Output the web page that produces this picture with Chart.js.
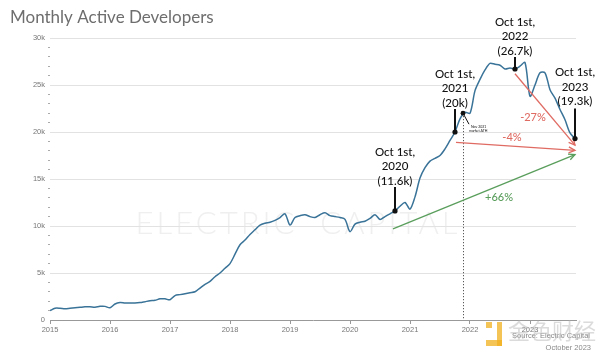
<!DOCTYPE html>
<html>
<head>
<meta charset="utf-8">
<script src="https://cdn.jsdelivr.net/npm/chart.js@4"></script>
<style>
  html, body { margin: 0; padding: 0; background: #fff; }
  canvas { display: block; }
</style>
</head>
<body>
<canvas id="c" width="600" height="353"></canvas>
<script>
// ---------- DATA ----------
// Monthly active developers (thousands), one value per month from Jan 2015 to Oct 2023
const monthlyDevsK = [
  1.0, 1.25, 1.25, 1.2, 1.25, 1.3, 1.35, 1.4, 1.4, 1.35, 1.45, 1.45,
  1.3, 1.7, 1.85, 1.8, 1.8, 1.8, 1.85, 1.95, 2.05, 2.1, 2.25, 2.25,
  2.15, 2.6, 2.7, 2.8, 2.9, 3.0, 3.4, 3.8, 4.1, 4.6, 5.0, 5.5,
  6.0, 7.0, 8.0, 8.5, 9.1, 9.6, 10.1, 10.3, 10.4, 10.6, 10.9, 11.3,
  10.1, 10.9, 11.1, 11.2, 11.0, 10.9, 11.2, 11.4, 11.1, 11.0, 10.9, 10.7,
  9.4, 10.2, 10.4, 10.5, 10.8, 11.2, 10.7, 11.0, 11.3, 11.6, 12.1, 12.5,
  11.8, 13.1, 15.1, 16.2, 16.9, 17.2, 17.5, 18.2, 19.1, 20.0, 21.4, 22.1,
  22.0, 24.4, 25.6, 26.6, 27.3, 27.2, 27.1, 26.7, 26.8, 26.7, 27.0, 27.4,
  23.8, 25.0, 26.3, 26.3, 24.5, 23.6, 22.4, 21.3, 19.9, 19.3
];
const yearLabels = ['2015','2016','2017','2018','2019','2020','2021','2022','2023'];
const yTickValuesK = [0, 5, 10, 15, 20, 25, 30];

// Callouts: month index (from Jan 2015) and value (k)
const calloutMonths = [69, 81, 93, 105];
const calloutValuesK = [11.6, 20.0, 26.7, 19.3];
const calloutTexts = [
  ['Oct 1st,', '2020', '(11.6k)'],
  ['Oct 1st,', '2021', '(20k)'],
  ['Oct 1st,', '2022', '(26.7k)'],
  ['Oct 1st,', '2023', '(19.3k)']
];
// Nov 2021 market all-time-high marker
const athMonth = 82.6;
const athValueK = 22.0;
const athText = ['Nov 2021', 'market ATH'];

// Change arrows: [startMonth, startK, endMonth, endK]
const arrowStarts = [[93, 26.2], [81.2, 18.9], [68.6, 9.7]];
const arrowEnds   = [[105, 18.6], [105, 18.05], [105, 17.6]];
const arrowLabels = ['-27%', '-4%', '+66%'];
const arrowLabelPos = [[96.6, 21.5], [92.4, 19.4], [89.8, 13.0]];

// ---------- STYLE ----------
const arrowColors = ['#df6b63', '#df6b63', '#5a9e5c'];
const calloutLift = [59, 58, 47, 66]; // px from dot to first text line
const calloutLeaderGap = [24, 23, 12, 30]; // leader line length px

const yearTicks = yearLabels.map((_, i) => i * 12);

function drawArrow(ctx, x1, y1, x2, y2, color) {
  ctx.save();
  ctx.strokeStyle = color;
  ctx.lineWidth = 1.3;
  ctx.beginPath();
  ctx.moveTo(x1, y1);
  ctx.lineTo(x2, y2);
  ctx.stroke();
  const a = Math.atan2(y2 - y1, x2 - x1);
  const L = 7, w = 0.45;
  ctx.beginPath();
  ctx.moveTo(x2 - L * Math.cos(a - w), y2 - L * Math.sin(a - w));
  ctx.lineTo(x2, y2);
  ctx.lineTo(x2 - L * Math.cos(a + w), y2 - L * Math.sin(a + w));
  ctx.stroke();
  ctx.restore();
}

const decorPlugin = {
  id: 'decor',
  beforeDatasetsDraw(chart) {
    const ctx = chart.ctx;
    const xs = chart.scales.x, ys = chart.scales.y;
    // faint watermark
    ctx.save();
    ctx.fillStyle = 'rgba(225,225,225,0.55)';
    ctx.font = '300 31px Lato';
    ctx.letterSpacing = '3px';
    ctx.textAlign = 'center';
    ctx.textBaseline = 'middle';
    ctx.fillText('ELECTRIC  CAPITAL', 298, 224);
    ctx.restore();
    // dotted vertical line at ATH
    ctx.save();
    ctx.strokeStyle = '#333';
    ctx.lineWidth = 1;
    ctx.setLineDash([1, 2]);
    const ax = Math.round(xs.getPixelForValue(athMonth)) + 0.5;
    ctx.beginPath();
    ctx.moveTo(ax, ys.getPixelForValue(athValueK * 1000));
    ctx.lineTo(ax, ys.getPixelForValue(0));
    ctx.stroke();
    ctx.restore();
  },
  afterDatasetsDraw(chart) {
    const ctx = chart.ctx;
    const xs = chart.scales.x, ys = chart.scales.y;

    // arrows
    arrowStarts.forEach((s, i) => {
      const e = arrowEnds[i];
      drawArrow(ctx,
        xs.getPixelForValue(s[0]), ys.getPixelForValue(s[1] * 1000),
        xs.getPixelForValue(e[0]), ys.getPixelForValue(e[1] * 1000),
        arrowColors[i]);
      ctx.save();
      ctx.fillStyle = arrowColors[i];
      ctx.font = '500 11px Lato';
      ctx.textAlign = 'center';
      ctx.textBaseline = 'middle';
      ctx.fillText(arrowLabels[i],
        xs.getPixelForValue(arrowLabelPos[i][0]),
        ys.getPixelForValue(arrowLabelPos[i][1] * 1000));
      ctx.restore();
    });

    // callouts
    calloutMonths.forEach((m, i) => {
      const px = xs.getPixelForValue(m);
      const py = ys.getPixelForValue(calloutValuesK[i] * 1000);
      ctx.save();
      ctx.strokeStyle = '#111';
      ctx.lineWidth = 2;
      ctx.beginPath();
      ctx.moveTo(px, py - calloutLeaderGap[i]);
      ctx.lineTo(px, py);
      ctx.stroke();
      ctx.fillStyle = '#111';
      ctx.beginPath();
      ctx.arc(px, py, 2.6, 0, Math.PI * 2);
      ctx.fill();
      ctx.font = '500 11.5px Lato';
      ctx.textAlign = 'center';
      ctx.textBaseline = 'middle';
      calloutTexts[i].forEach((t, k) => {
        ctx.fillText(t, px, py - calloutLift[i] + k * 14.6);
      });
      ctx.restore();
    });

    // ATH marker
    const hx = xs.getPixelForValue(athMonth);
    const hy = ys.getPixelForValue(athValueK * 1000);
    ctx.save();
    ctx.fillStyle = '#111';
    ctx.beginPath();
    ctx.arc(hx, hy, 2.4, 0, Math.PI * 2);
    ctx.fill();
    ctx.strokeStyle = '#111';
    ctx.lineWidth = 1;
    ctx.beginPath();
    ctx.moveTo(hx, hy);
    ctx.lineTo(hx + 6, hy + 11);
    ctx.stroke();
    ctx.font = '3.5px Lato';
    ctx.textAlign = 'left';
    ctx.textBaseline = 'middle';
    ctx.fillText(athText[0], hx + 8, hy + 14);
    ctx.fillText(athText[1], hx + 6, hy + 18);
    ctx.restore();
  },
  afterDraw(chart) {
    const ctx = chart.ctx;
    ctx.save();
    // title
    ctx.fillStyle = '#6e6e6e';
    ctx.font = '17px Lato';
    ctx.textAlign = 'left';
    ctx.textBaseline = 'alphabetic';
    ctx.fillText('Monthly Active Developers', 10, 23);
    // footer texts
    ctx.fillStyle = '#888';
    ctx.font = '7.5px "Liberation Sans"';
    ctx.textAlign = 'right';
    ctx.fillText('Source: Electric Capital', 590, 338);
    ctx.fillText('October 2023', 591, 350);
    // repost watermark
    ctx.globalAlpha = 0.75;
    ctx.fillStyle = '#f2b01e';
    ctx.fillRect(486, 322, 6, 6);
    ctx.fillRect(497, 322, 5, 24);
    ctx.fillRect(486, 340, 16, 6);
    ctx.globalAlpha = 0.55;
    ctx.fillStyle = '#bdbdbd';
    ctx.font = '22px "Noto Sans CJK SC"';
    ctx.textAlign = 'left';
    ctx.textBaseline = 'middle';
    ctx.fillText('金色财经', 508, 331);
    ctx.restore();
  }
};

new Chart(document.getElementById('c'), {
  type: 'line',
  data: {
    datasets: [{
      data: monthlyDevsK.map((v, i) => ({ x: i, y: v * 1000 })),
      borderColor: '#3a7398',
      borderWidth: 1.5,
      pointRadius: 0,
      tension: 0.3,
      fill: false
    }]
  },
  options: {
    responsive: false,
    animation: false,
    devicePixelRatio: 1,
    layout: { padding: { top: 38, right: 24, left: 0, bottom: 0 } },
    plugins: { legend: { display: false }, tooltip: { enabled: false }, title: { display: false } },
    scales: {
      x: {
        type: 'linear',
        min: 0,
        max: 105.2,
        afterBuildTicks(scale) { scale.ticks = yearTicks.map(v => ({ value: v })); },
        afterFit(scale) { scale.height = 33; },
        ticks: {
          autoSkip: false,
          maxRotation: 0,
          padding: 1,
          color: '#777',
          font: { family: 'Liberation Sans', size: 7.5 },
          callback: (v) => yearLabels[yearTicks.indexOf(v)]
        },
        grid: { drawOnChartArea: false, drawTicks: true, tickLength: 4, color: '#999' },
        border: { display: true, color: '#999', width: 1 }
      },
      y: {
        min: 0,
        max: 30000,
        afterFit(scale) { scale.width = 50; },
        ticks: {
          stepSize: 1000,
          autoSkip: false,
          padding: 3,
          color: '#777',
          font: { family: 'Liberation Sans', size: 7.5 },
          callback: (v) => {
            const k = v / 1000;
            if (!yTickValuesK.includes(k)) return '';
            return k === 0 ? '0' : k + 'k';
          }
        },
        grid: {
          drawTicks: true,
          tickLength: 2,
          color: (c) => (c.tick && c.tick.value % 5000 === 0 && c.tick.value > 0) ? '#e2e2e2' : 'rgba(0,0,0,0)',
          tickColor: (c) => (c.tick && c.tick.value % 5000 !== 0) ? '#aaa' : 'rgba(0,0,0,0)'
        },
        border: { display: false }
      }
    }
  },
  plugins: [decorPlugin]
});
</script>
</body>
</html>
